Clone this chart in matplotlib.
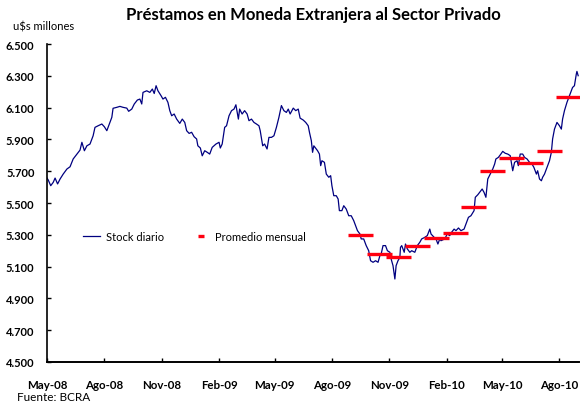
import numpy as np
import pandas as pd
import matplotlib
matplotlib.use("Agg")
import matplotlib.pyplot as plt
from matplotlib.ticker import FuncFormatter

plt.rcParams['font.family'] = ['Lato', 'DejaVu Sans']

# stock diario (dias desde 01-may-2008, u$s millones)
inicio = pd.Timestamp("2008-05-01")
dias = [0, 2, 6, 10, 13, 17, 21, 26, 32, 37, 42, 48, 53, 56, 60, 64, 69, 74, 77, 82,
        88, 92, 96, 99, 104, 106, 112, 117, 122, 128, 131, 136, 140, 145, 149, 152, 154, 160, 165, 169,
        172, 175, 178, 183, 186, 190, 194, 197, 200, 204, 208, 213, 217, 221, 224, 228, 232, 236, 240, 242,
        246, 249, 253, 257, 261, 265, 271, 276, 278, 281, 285, 288, 292, 296, 300, 303, 307, 309, 313, 317,
        321, 324, 328, 332, 336, 340, 342, 346, 349, 353, 356, 360, 364, 368, 372, 376, 380, 384, 387, 390,
        395, 399, 403, 406, 411, 415, 419, 421, 424, 426, 428, 434, 437, 439, 441, 445, 448, 452, 455, 457,
        460, 464, 467, 469, 473, 476, 480, 484, 488, 492, 495, 498, 502, 504, 508, 512, 516, 519, 523, 527,
        531, 534, 536, 539, 543, 546, 550, 552, 555, 558, 560, 563, 566, 567, 569, 573, 575, 578, 582, 585,
        590, 594, 598, 601, 606, 610, 614, 616, 621, 624, 627, 630, 632, 638, 642, 646, 649, 653, 656, 660,
        664, 669, 672, 676, 680, 685, 687, 691, 694, 698, 701, 704, 707, 711, 715, 718, 720, 724, 728, 731,
        735, 739, 743, 747, 750, 754, 756, 759, 763, 766, 770, 774, 778, 781, 785, 787, 790, 793, 795, 798,
        802, 806, 809, 811, 814, 818, 822, 825, 827, 830, 834, 838, 841, 843, 846, 849, 850, 852]
stock = [5657, 5645, 5609, 5630, 5657, 5620, 5651, 5682, 5714, 5728, 5777, 5808, 5833, 5882, 5829, 5860, 5871, 5923, 5976, 5986,
         5997, 5980, 5955, 5986, 6039, 6096, 6102, 6108, 6102, 6097, 6077, 6091, 6123, 6148, 6154, 6123, 6196, 6206, 6196, 6217,
         6189, 6238, 6206, 6175, 6154, 6165, 6133, 6081, 6049, 6060, 6028, 6001, 6028, 6007, 5955, 5938, 5945, 5917, 5903, 5860,
         5846, 5797, 5829, 5819, 5808, 5850, 5871, 5882, 5846, 5871, 5976, 5986, 6049, 6081, 6091, 6118, 6028, 6091, 6060, 6081,
         6060, 6018, 6028, 6007, 5997, 5986, 5955, 5860, 5871, 5840, 5913, 5913, 5923, 5976, 6039, 6113, 6081, 6070, 6091, 6060,
         6097, 6081, 6091, 6034, 6022, 6007, 5986, 5945, 5892, 5819, 5860, 5829, 5808, 5735, 5766, 5756, 5682, 5662, 5672, 5609,
         5546, 5546, 5525, 5452, 5452, 5483, 5462, 5420, 5420, 5389, 5357, 5326, 5305, 5274, 5274, 5232, 5200, 5137, 5127, 5137,
         5127, 5169, 5179, 5232, 5232, 5200, 5190, 5148, 5106, 5022, 5106, 5137, 5158, 5221, 5232, 5190, 5242, 5211, 5190, 5200,
         5190, 5232, 5253, 5274, 5284, 5295, 5336, 5305, 5284, 5274, 5242, 5274, 5263, 5274, 5305, 5295, 5316, 5336, 5326, 5343,
         5326, 5336, 5368, 5410, 5420, 5452, 5536, 5552, 5567, 5588, 5567, 5536, 5651, 5682, 5714, 5745, 5777, 5787, 5808, 5825,
         5813, 5808, 5798, 5703, 5756, 5766, 5735, 5808, 5808, 5787, 5777, 5756, 5745, 5724, 5682, 5703, 5651, 5640, 5662, 5682,
         5724, 5766, 5819, 5903, 5965, 6007, 5986, 5965, 6028, 6081, 6133, 6175, 6206, 6227, 6238, 6311, 6328, 6301]

# promedio mensual
meses = ["2009-09", "2009-10", "2009-11", "2009-12", "2010-01", "2010-02",
         "2010-03", "2010-04", "2010-05", "2010-06", "2010-07", "2010-08"]
promedio = [5301, 5179, 5160, 5230, 5280, 5311, 5475, 5701, 5783, 5752, 5827, 6167]

etiquetas_x = ["May-08", "Ago-08", "Nov-08", "Feb-09", "May-09", "Ago-09",
               "Nov-09", "Feb-10", "May-10", "Ago-10"]

fechas = inicio + pd.to_timedelta(dias, unit="D")
fechas_mes = pd.to_datetime(meses) + pd.Timedelta(days=14)

fig = plt.figure(figsize=(5.8, 4.06), dpi=100)
ax = fig.add_axes([0.081, 0.106, 0.918, 0.783])

ax.plot(fechas, stock, color="#000080", lw=0.9, label="Stock diario")
ax.plot(fechas_mes, promedio, ls="none", marker="_", ms=18, mew=2.4,
        color="#ff0010", label="Promedio mensual")

ax.set_ylim(4500, 6500)
ax.set_yticks(np.arange(4500, 6501, 200))
ax.yaxis.set_major_formatter(FuncFormatter(lambda v, p: "{:,.0f}".format(v).replace(",", ".")))

ticks_x = pd.date_range("2008-05-01", periods=len(etiquetas_x), freq="3MS")
ax.set_xlim(inicio, inicio + pd.Timedelta(days=854))
ax.set_xticks(ticks_x)
ax.set_xticklabels(etiquetas_x)

for s in ["top", "right"]:
    ax.spines[s].set_visible(False)
ax.spines["left"].set_linewidth(1.2)
ax.spines["bottom"].set_linewidth(1.4)
ax.tick_params(axis="y", direction="in", length=3, width=1, pad=9, labelsize=8)
ax.tick_params(axis="x", direction="in", length=3, width=1, pad=12, labelsize=8.3)
for t in ax.get_xticklabels() + ax.get_yticklabels():
    t.set_fontweight("bold")

ax.legend(loc="center", bbox_to_anchor=(0.277, 0.396), ncol=2, frameon=False,
          fontsize=8, markerscale=0.22, handlelength=1.5, columnspacing=2.6,
          handletextpad=0.5)

fig.text(0.5405, 0.964, "Préstamos en Moneda Extranjera al Sector Privado",
         fontsize=12, fontweight="bold", ha="center", va="center")
fig.text(0.022, 0.933, "u$s millones", fontsize=8, va="center")
fig.text(0.029, 0.022, "Fuente: BCRA", fontsize=8.5, va="center")

fig.savefig("out.png", dpi=100)
